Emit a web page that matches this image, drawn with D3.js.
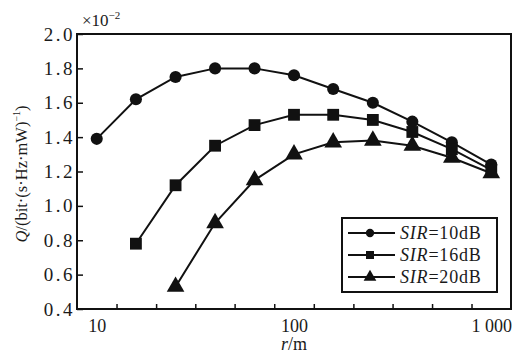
<!DOCTYPE html>
<html>
<meta charset="UTF-8">
<head>
<script src="https://cdn.jsdelivr.net/npm/d3@7"></script>
<style>
  body { margin: 0; background: #fff; }
  text { font-family: "Liberation Serif", "DejaVu Serif", serif; fill: #1a1a1a; }
</style>
</head>
<body>
<div id="chart"></div>
<script>
// distance r (m) for every sample
var rValues = [10, 15.8, 25.1, 39.8, 63.1, 100, 158, 251, 398, 631, 1000];

// Q values (x10^-2), null where a series has no point
var sir10 = [1.39, 1.62, 1.75, 1.80, 1.80, 1.76, 1.68, 1.60, 1.49, 1.37, 1.24];
var sir16 = [null, 0.78, 1.12, 1.35, 1.47, 1.53, 1.53, 1.50, 1.43, 1.33, 1.21];
var sir20 = [null, null, 0.53, 0.90, 1.15, 1.30, 1.37, 1.38, 1.35, 1.28, 1.19];

var seriesNames = ["10dB", "16dB", "20dB"];
var seriesSymbols = ["circle", "square", "triangle"];

var xLabelTicks = [10, 100, 1000];
var xLabelText = ["10", "100", "1 000"];
var xMinorTicks = [12.6, 20, 31.6, 50, 79.4, 126, 200, 316, 501, 794];
var yTicks = [0.4, 0.6, 0.8, 1.0, 1.2, 1.4, 1.6, 1.8, 2.0];

var width = 514, height = 354;
var margin = { top: 34, right: 3, bottom: 45, left: 77 };

var svg = d3.select("#chart").append("svg")
  .attr("width", width)
  .attr("height", height);

var x = d3.scaleLog()
  .domain([Math.pow(10, 0.9), Math.pow(10, 3.1)])
  .range([margin.left, width - margin.right]);

var y = d3.scaleLinear()
  .domain([0.4, 2.0])
  .range([height - margin.bottom, margin.top]);

// frame
svg.append("rect")
  .attr("x", margin.left)
  .attr("y", margin.top)
  .attr("width", width - margin.right - margin.left)
  .attr("height", height - margin.bottom - margin.top)
  .attr("fill", "none")
  .attr("stroke", "#111")
  .attr("stroke-width", 2);

// y axis, ticks pointing inward
var yAxis = svg.append("g")
  .attr("transform", "translate(" + margin.left + ",0)")
  .call(d3.axisLeft(y).tickValues(yTicks).tickFormat(d3.format(".1f"))
    .tickSizeInner(-6).tickSizeOuter(0).tickPadding(2));
yAxis.select(".domain").remove();
yAxis.selectAll("line").attr("stroke", "#111").attr("stroke-width", 1.5);
yAxis.selectAll("text")
  .attr("font-size", 19)
  .attr("letter-spacing", 2.5)
  .attr("font-family", null);

// x axis labels (no tick marks at decades)
var xAxis = svg.append("g")
  .attr("transform", "translate(0," + y(0.4) + ")")
  .call(d3.axisBottom(x).tickValues(xLabelTicks)
    .tickFormat(function (d, i) { return xLabelText[i]; })
    .tickSize(0).tickPadding(10));
xAxis.select(".domain").remove();
xAxis.selectAll("text").attr("font-size", 18).attr("font-family", null);

// x minor ticks inward
var xMinor = svg.append("g")
  .attr("transform", "translate(0," + y(0.4) + ")")
  .call(d3.axisBottom(x).tickValues(xMinorTicks).tickFormat("")
    .tickSizeInner(-5).tickSizeOuter(0));
xMinor.select(".domain").remove();
xMinor.selectAll("line").attr("stroke", "#111").attr("stroke-width", 1.5);

// exponent note
var expo = svg.append("text")
  .attr("x", 82)
  .attr("y", 26)
  .attr("font-size", 17);
expo.append("tspan").text("×10");
expo.append("tspan").attr("font-size", 11).attr("dy", -7).text("−2");

// axis titles
var xTitle = svg.append("text")
  .attr("x", x(100))
  .attr("y", 350)
  .attr("text-anchor", "middle")
  .attr("font-size", 18);
xTitle.append("tspan").attr("font-style", "italic").text("r");
xTitle.append("tspan").text("/m");

var yTitle = svg.append("text")
  .attr("transform", "translate(27,174) rotate(-90)")
  .attr("text-anchor", "middle")
  .attr("font-size", 16.5);
yTitle.append("tspan").attr("font-style", "italic").text("Q");
yTitle.append("tspan").text("/(bit·(s·Hz·mW)");
yTitle.append("tspan").attr("font-size", 10).attr("dy", -7).text("−1");
yTitle.append("tspan").attr("dy", 7).text(")");

// series
var allSeries = [sir10, sir16, sir20];
var symbolTypes = {
  circle: d3.symbol().type(d3.symbolCircle).size(115),
  square: d3.symbol().type(d3.symbolSquare).size(140),
  triangle: d3.symbol().type(d3.symbolTriangle).size(135)
};
var legendSymbols = {
  circle: d3.symbol().type(d3.symbolCircle).size(55),
  square: d3.symbol().type(d3.symbolSquare).size(64),
  triangle: d3.symbol().type(d3.symbolTriangle).size(70)
};

var line = d3.line()
  .defined(function (d) { return d.v !== null; })
  .x(function (d) { return x(d.r); })
  .y(function (d) { return y(d.v); });

allSeries.forEach(function (vals, s) {
  var pts = rValues.map(function (r, i) { return { r: r, v: vals[i] }; });
  svg.append("path")
    .datum(pts)
    .attr("fill", "none")
    .attr("stroke", "#111")
    .attr("stroke-width", 2)
    .attr("d", line);
  svg.selectAll(".m" + s)
    .data(pts.filter(function (d) { return d.v !== null; }))
    .enter()
    .append("path")
    .attr("class", "m" + s)
    .attr("transform", function (d) { return "translate(" + x(d.r) + "," + y(d.v) + ")"; })
    .attr("d", symbolTypes[seriesSymbols[s]])
    .attr("fill", "#111");
});

// legend
var lg = svg.append("g").attr("transform", "translate(342,218)");
lg.append("rect")
  .attr("width", 155)
  .attr("height", 74)
  .attr("fill", "#fff")
  .attr("stroke", "#111")
  .attr("stroke-width", 2);

seriesNames.forEach(function (name, i) {
  var ry = 15 + i * 22;
  lg.append("line")
    .attr("x1", 6).attr("x2", 53)
    .attr("y1", ry).attr("y2", ry)
    .attr("stroke", "#111").attr("stroke-width", 2);
  lg.append("path")
    .attr("transform", "translate(28," + ry + ")")
    .attr("d", legendSymbols[seriesSymbols[i]])
    .attr("fill", "#111");
  var t = lg.append("text")
    .attr("x", 58)
    .attr("y", ry + 6)
    .attr("font-size", 18)
    .attr("letter-spacing", 0.8);
  t.append("tspan").attr("font-style", "italic").text("SIR");
  t.append("tspan").text("=" + name);
});
</script>
</body>
</html>
